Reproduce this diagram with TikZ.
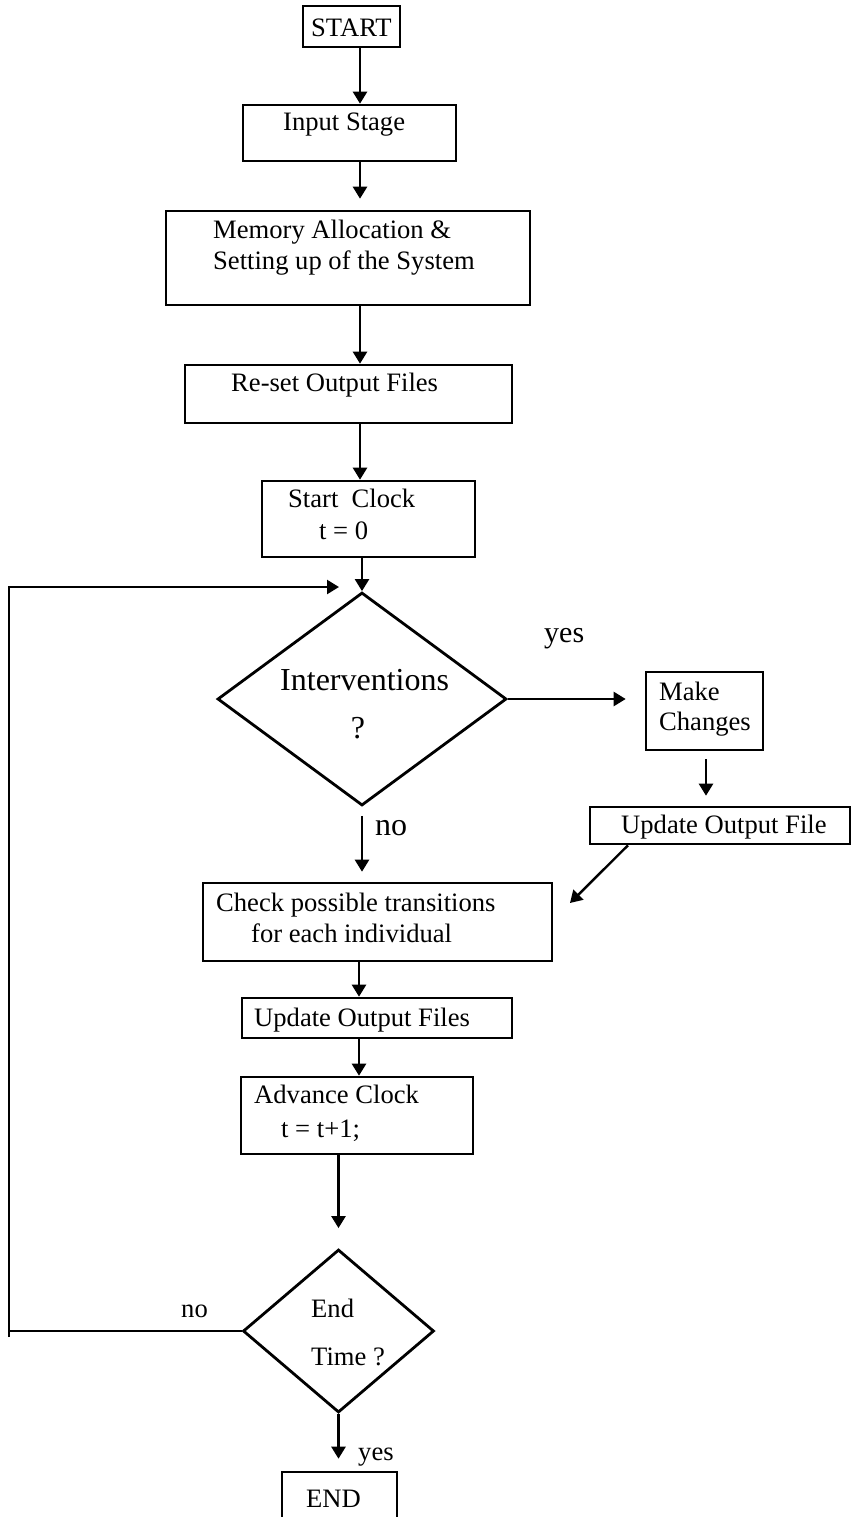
\documentclass[tikz,border=0pt]{standalone}
\usepackage{fontspec}
\setmainfont{Liberation Serif}
\usetikzlibrary{shapes.geometric,arrows.meta,fit}
\begin{document}
\begin{tikzpicture}[x=0.5pt,y=-0.5pt,
  line width=1.2pt,
  stepbox/.style={draw, inner sep=0pt, line width=1.3pt},
  decision/.style={draw, diamond, inner sep=0pt, line width=1.4pt},
  txt/.style={inner sep=0pt, anchor=base west, font=\fontsize{13.3}{16}\selectfont},
  bigtxt/.style={inner sep=0pt, anchor=base west, font=\fontsize{16}{19}\selectfont},
  arr/.style={-{Triangle[length=6pt,width=7pt]}, line width=1.2pt}]

\useasboundingbox (0,0) rectangle (851,1517);
\clip (0,0) rectangle (851,1517);

% process boxes
\node[stepbox, fit={(303,6) (400,47)}] (start) {};
\node[stepbox, fit={(243,105) (456,161)}] (input) {};
\node[stepbox, fit={(166,211) (530,305)}] (mem) {};
\node[stepbox, fit={(185,365) (512,423)}] (reset) {};
\node[stepbox, fit={(262,481) (475,557)}] (clock) {};
\node[stepbox, fit={(646,672) (763,750)}] (make) {};
\node[stepbox, fit={(590,807) (850,844)}] (upd) {};
\node[stepbox, fit={(203,883) (552,961)}] (check) {};
\node[stepbox, fit={(242,998) (512,1038)}] (updf) {};
\node[stepbox, fit={(241,1077) (473,1154)}] (adv) {};
\node[stepbox, fit={(282,1472) (397,1545)}] (end) {};

% decisions
\node[decision, minimum width=144.5pt, minimum height=106.5pt] (int) at (362,699) {};
\node[decision, minimum width=95.5pt, minimum height=81.5pt] (endq) at (338.5,1331) {};

% texts
\node[txt] (start-t) at (310,36) {START};
\node[txt] (input-t) at (282,130) {Input Stage};
\node[txt] (mem-t1) at (212,238) {Memory Allocation \&};
\node[txt] (mem-t2) at (212,269) {Setting up of the System};
\node[txt] (reset-t) at (230,391) {Re-set Output Files};
\node[txt] (clock-t1) at (287,507) {Start\ \ Clock};
\node[txt] (clock-t2) at (318,539) {t = 0};
\node[bigtxt] (int-t1) at (279,690) {Interventions};
\node[bigtxt, anchor=base] (int-t2) at (358,738) {?};
\node[txt] (make-t1) at (658,700) {Make};
\node[txt] (make-t2) at (658,730) {Changes};
\node[txt] (upd-t) at (620,833) {Update Output File};
\node[txt] (check-t1) at (215,911) {Check possible transitions};
\node[txt] (check-t2) at (250,942) {for each individual};
\node[txt] (updf-t) at (253,1026) {Update Output Files};
\node[txt] (adv-t1) at (253,1103) {Advance Clock};
\node[txt] (adv-t2) at (280,1137) {t = t+1;};
\node[txt] (endq-t1) at (310,1317) {End};
\node[txt] (endq-t2) at (310,1365) {Time ?};
\node[txt] (end-t) at (305,1507) {END};

% branch labels
\node[txt, font=\fontsize{15}{18}\selectfont] (yes1) at (543,642) {yes};
\node[bigtxt] (no1) at (374,835) {no};
\node[txt] (no2) at (180,1317) {no};
\node[txt] (yes2) at (357,1460) {yes};

% helper coordinates
\coordinate (sp) at (360,0);
\coordinate (sp2) at (359,0);
\coordinate (mx) at (706,0);
\coordinate (ds) at (628,0);
\coordinate (dg) at (570,903);
\coordinate (lpb) at (9,1337);
\coordinate (lpt) at (9,587);

% connectors
\draw[arr] (start.south -| sp) -- (input.north -| sp);
\draw[arr, shorten >=5.5pt] (input.south -| sp) -- (mem.north -| sp);
\draw[arr] (mem.south -| sp) -- (reset.north -| sp);
\draw[arr] (reset.south -| sp) -- (clock.north -| sp);
\draw[arr] (clock.south -| int.north) -- (int.north);
\draw[arr, shorten >=9.5pt] (int.east) -- (int.east -| make.west);
\draw[arr, shorten <=4pt, shorten >=5pt] (make.south -| mx) -- (upd.north -| mx);
\draw[arr] (upd.south -| ds) -- (dg);
\draw[arr, shorten <=4.5pt, shorten >=5pt] (int.south) -- (int.south |- check.north);
\draw[arr] (check.south -| sp2) -- (updf.north -| sp2);
\draw[arr] (updf.south -| sp2) -- (adv.north -| sp2);
\draw[arr, shorten >=10pt] (adv.south -| endq.north) -- (endq.north);
\draw[arr, shorten >=6pt] (endq.south) -- (end.north -| endq.south);

% loop back to the intervention check
\draw (endq.west) -- (endq.west -| lpb);
\draw[arr, shorten >=11.5pt] (lpb) -- (lpt) -- (lpt -| int.north);
\end{tikzpicture}
\end{document}
